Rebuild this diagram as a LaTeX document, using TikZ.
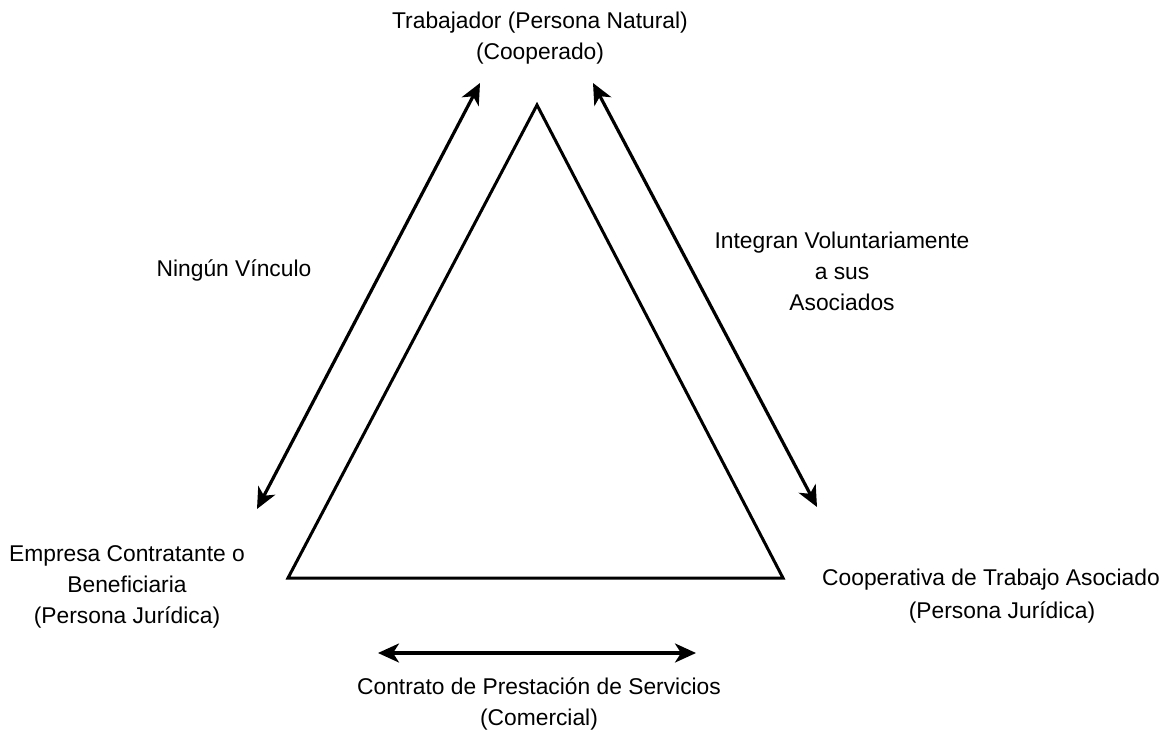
\documentclass[tikz,border=0pt]{standalone}
\usepackage{fontspec}
\setmainfont{Liberation Sans}
\usetikzlibrary{arrows.meta}
\begin{document}
\begin{tikzpicture}[x=1pt,y=-1pt,
  lbl/.style={align=center,inner sep=0pt,font=\fontsize{22.8}{31}\selectfont},
  tri/.style={line width=3pt,line join=miter},
  tip/.style={Stealth[length=21pt,width=19pt,inset=6pt]},
  rel/.style={line width=3.2pt,{Stealth[length=21pt,width=19pt,inset=6pt]}-{Stealth[length=21pt,width=19pt,inset=6pt]}}]
\useasboundingbox (0,0) rectangle (1167,733);
% triangle
\coordinate (A) at (537,105);
\coordinate (B) at (288,578);
\coordinate (C) at (783,578);
\draw[tri] (A) -- (B) -- (C) -- cycle;
% labels
\node[lbl] (trab) at (540,38) {Trabajador (Persona Natural)\\(Cooperado)};
\node[lbl] (ning) at (234,270) {Ningún Vínculo};
\node[lbl] (integ) at (842,271) {Integran Voluntariamente\\a sus\\Asociados};
\node[lbl] (emp) at (127,587) {Empresa Contratante o\\Beneficiaria\\(Persona Jurídica)};
\node[lbl,anchor=north west] (coop) at (822,569) {Cooperativa de Trabajo Asociado};
\node[lbl] (coop2) at (1002,612) {(Persona Jurídica)};
\node[lbl] (contr) at (539,704) {Contrato de Prestación de Servicios\\(Comercial)};
% arrow endpoints
\coordinate (l1) at (257,509);
\coordinate (l2) at (480,83);
\coordinate (r1) at (593,83);
\coordinate (r2) at (817,507);
\coordinate (b1) at (378,653);
\coordinate (b2) at (696,653);
\draw[rel] (l1) -- (l2);
\draw[rel] (r1) -- (r2);
\draw[rel] (b1) -- (b2);
\end{tikzpicture}
\end{document}
